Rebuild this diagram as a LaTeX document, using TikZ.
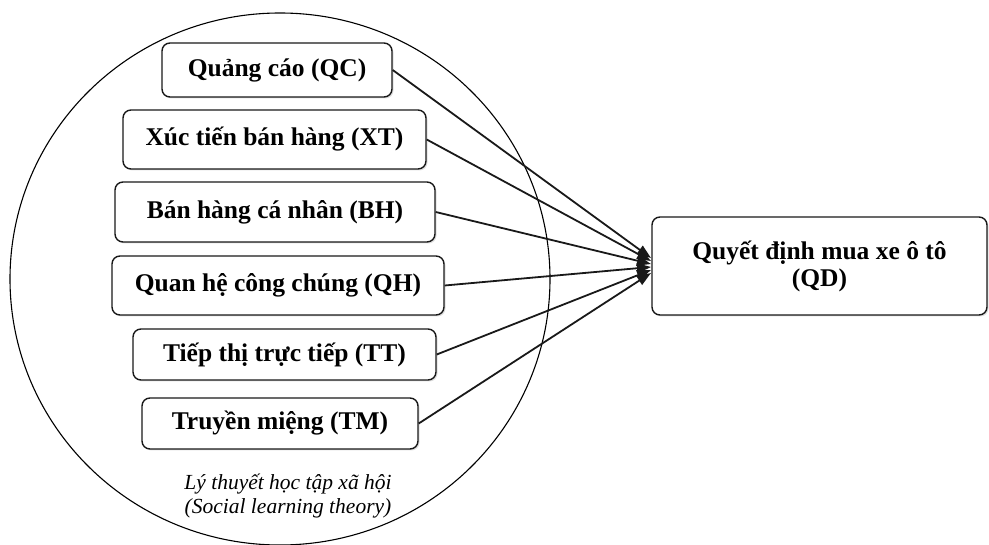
\documentclass[tikz,border=0pt]{standalone}
\usepackage{fontspec}
\setmainfont{Liberation Serif}
\usetikzlibrary{arrows.meta,shadows}
\begin{document}
\begin{tikzpicture}[x=1pt,y=-1pt,
  factor/.style={draw=black!90, line width=1.4pt, rounded corners=8pt, fill=white,
    drop shadow={opacity=0.25, shadow xshift=1.5pt, shadow yshift=-1.5pt},
    font=\fontsize{25.5}{27}\selectfont\bfseries, inner sep=0pt, align=center},
  link/.style={line width=1.8pt, draw=black!90, -{Triangle[length=14pt,width=10pt]}},
  theory/.style={draw=black, line width=1.1pt}]
\useasboundingbox (0,0) rectangle (989,545);
\begin{scope}
\clip (0,0) rectangle (989,545);
\draw[theory] (280,279) ellipse [x radius=270, y radius=266];
\end{scope}
\node[factor, minimum width=230pt, minimum height=54pt] (qc) at (277,70) {Quảng cáo (QC)};
\node[factor, minimum width=303pt, minimum height=59pt] (xt) at (274.5,139.5) {Xúc tiến bán hàng (XT)};
\node[factor, minimum width=320pt, minimum height=60pt] (bh) at (275,212) {Bán hàng cá nhân (BH)};
\node[factor, minimum width=332pt, minimum height=59pt] (qh) at (278,285.5) {Quan hệ công chúng (QH)};
\node[factor, minimum width=303pt, minimum height=51pt] (tt) at (284.5,354.5) {Tiếp thị trực tiếp (TT)};
\node[factor, minimum width=276pt, minimum height=51pt] (tm) at (280,423.5) {Truyền miệng (TM)};
\node[factor, minimum width=335pt, minimum height=98pt] (qd) at (819.5,266) {Quyết định mua xe ô tô\\(QD)};
\node[font=\fontsize{21.5}{24}\selectfont\itshape, align=center] (lt) at (288,496) {Lý thuyết học tập xã hội\\(Social learning theory)};
\coordinate (e1) at (651,258);
\coordinate (e2) at (651,261);
\coordinate (e3) at (651,264);
\coordinate (e4) at (651,267);
\coordinate (e5) at (651,270);
\coordinate (e6) at (651,273);
\draw[link] (qc.east) -- (e1);
\draw[link] (xt.east) -- (e2);
\draw[link] (bh.east) -- (e3);
\draw[link] (qh.east) -- (e4);
\draw[link] (tt.east) -- (e5);
\draw[link] (tm.east) -- (e6);
\end{tikzpicture}
\end{document}
